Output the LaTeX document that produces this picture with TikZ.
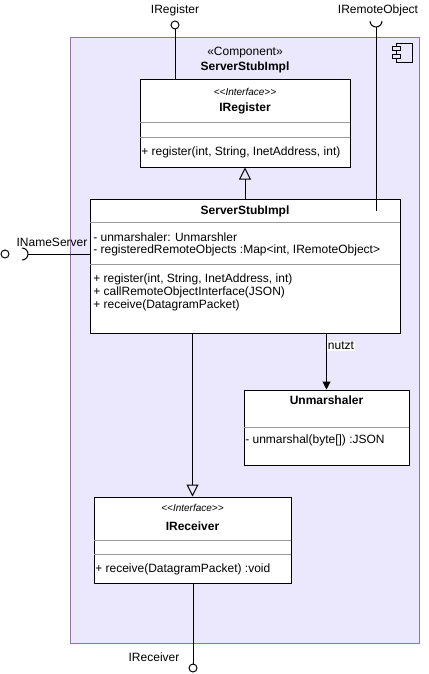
\documentclass[tikz,border=0pt]{standalone}
\usepackage{fontspec}
\setmainfont{Liberation Sans}
\usetikzlibrary{calc}
\usetikzlibrary{arrows.meta}
\definecolor{compfill}{HTML}{EBE7FD}
\definecolor{compline}{HTML}{9673A6}
\definecolor{sepgray}{HTML}{999999}
\tikzset{
	compstyle/.style={rectangle,draw=compline,fill=compfill,line width=0.75pt,inner sep=0},
	classstyle/.style={rectangle,draw=black,fill=white,line width=0.75pt,inner sep=0},
	sepstyle/.style={draw=sepgray,line width=0.75pt},
	textstyle/.style={inner sep=0,anchor=west,font=\fontsize{9}{10}\selectfont},
	titlestyle/.style={inner sep=0,font=\fontsize{9}{10}\selectfont\bfseries},
	stereostyle/.style={inner sep=0,font=\fontsize{7.5}{9}\selectfont\itshape},
	labelstyle/.style={inner sep=0,font=\fontsize{9}{10}\selectfont},
	ballstyle/.style={circle,draw=black,fill=white,line width=0.75pt,inner sep=0,minimum size=6pt},
	linkstyle/.style={draw=black,line width=0.75pt},
	inheritstyle/.style={linkstyle,-{Triangle[open,length=9pt,width=9pt]}},
	usestyle/.style={linkstyle,-{Triangle[length=6pt,width=6pt]}}
}

\begin{document}
\begin{tikzpicture}[x=0.75pt,y=-0.75pt]
	\useasboundingbox (0,0) rectangle (428,674);
	% component
	\node[compstyle,minimum width=261.75pt,minimum height=453.75pt] (comp) at (244.5,340.5) {};
	\node[stereostyle,font=\fontsize{9}{10}\selectfont] (compstereo) at (245,53) {«Component»};
	\node[titlestyle] (comptitle) at (245,67) {ServerStubImpl};
	% component icon
	\draw[draw=black,fill=compfill,line width=0.6pt] (396,43) rectangle (412,62);
	\draw[draw=black,fill=compfill,line width=0.6pt] (392,46) rectangle (400,50);
	\draw[draw=black,fill=compfill,line width=0.6pt] (392,54) rectangle (400,58);
	% IRegister
	\node[classstyle,minimum width=157.5pt,minimum height=65.25pt] (reg) at (245,123.5) {};
	\node[stereostyle] (regstereo) at (245,92) {{<}{<}Interface{>}{>}};
	\node[titlestyle] (regtitle) at (245,108) {IRegister};
	\draw[sepstyle] ($(reg.north west)+(0.5,43)$) -- ($(reg.north east)+(-0.5,43)$);
	\draw[sepstyle] ($(reg.north west)+(0.5,58)$) -- ($(reg.north east)+(-0.5,58)$);
	\node[textstyle] (regm1) at (141,152) {+ register(int, String, InetAddress, int)};
	% ServerStubImpl
	\node[classstyle,minimum width=232.5pt,minimum height=100.5pt] (stub) at (245,266) {};
	\node[titlestyle] (stubtitle) at (245,211) {ServerStubImpl};
	\draw[sepstyle] ($(stub.north west)+(0.5,24)$) -- ($(stub.north east)+(-0.5,24)$);
	\node[textstyle] (stuba1) at (93,237) {- unmarshaler: Unmarshler};
	\node[textstyle] (stuba2) at (93,250) {- registeredRemoteObjects :Map{<}int, IRemoteObject{>}};
	\draw[sepstyle] ($(stub.north west)+(0.5,66)$) -- ($(stub.north east)+(-0.5,66)$);
	\node[textstyle] (stubm1) at (93,279) {+ register(int, String, InetAddress, int)};
	\node[textstyle] (stubm2) at (93,292) {+ callRemoteObjectInterface(JSON)};
	\node[textstyle] (stubm3) at (93,305) {+ receive(DatagramPacket)};
	% Unmarshaler
	\node[classstyle,minimum width=123.75pt,minimum height=56.25pt] (unm) at (326.5,427.5) {};
	\node[titlestyle] (unmtitle) at (326.5,400) {Unmarshaler};
	\draw[sepstyle] ($(unm.north west)+(0.5,38)$) -- ($(unm.north east)+(-0.5,38)$);
	\node[textstyle] (unmm1) at (245,440) {- unmarshal(byte[]) :JSON};
	% IReceiver
	\node[classstyle,minimum width=147.75pt,minimum height=64.5pt] (rcv) at (192.5,540) {};
	\node[stereostyle] (rcvstereo) at (192.5,508) {{<}{<}Interface{>}{>}};
	\node[titlestyle] (rcvtitle) at (192.5,526) {IReceiver};
	\draw[sepstyle] ($(rcv.north west)+(0.5,44)$) -- ($(rcv.north east)+(-0.5,44)$);
	\draw[sepstyle] ($(rcv.north west)+(0.5,58)$) -- ($(rcv.north east)+(-0.5,58)$);
	\node[textstyle] (rcvm1) at (95,569) {+ receive(DatagramPacket) :void};
	% relations
	\draw[inheritstyle] (stub.north) -- (reg.south);
	\draw[inheritstyle] (stub.south -| rcv.north) -- (rcv.north);
	\draw[usestyle] (stub.south -| unm.north) -- (unm.north);
	\node[labelstyle,fill=white,inner sep=1pt] (uselabel) at (341,346) {nutzt};
	% provided and required interfaces
	\node[ballstyle] (regball) at (175,25) {};
	\node[labelstyle] (reglabel) at (175,10) {IRegister};
	\draw[linkstyle] (regball) -- (reg.north -| regball);
	\coordinate (remsock) at (376,27);
	\coordinate (remend) at (376,211);
	\node[labelstyle] (remlabel) at (378,10) {IRemoteObject};
	\draw[linkstyle] (370,21) arc[start angle=180,end angle=360,radius=4.5pt];
	\draw[linkstyle] (remsock) -- (remend);
	\node[ballstyle] (nameball) at (5,254) {};
	\coordinate (namesock) at (28,254);
	\node[labelstyle] (namelabel) at (52,242) {INameServer};
	\draw[linkstyle] (22,248) arc[start angle=90,end angle=-90,radius=4.5pt];
	\draw[linkstyle] (namesock) -- (stub.west |- namesock);
	\node[ballstyle] (rcvball) at (193,668) {};
	\node[labelstyle] (rcvlabel) at (154,657) {IReceiver};
	\draw[linkstyle] (rcv.south -| rcvball) -- (rcvball);
\end{tikzpicture}
\end{document}
